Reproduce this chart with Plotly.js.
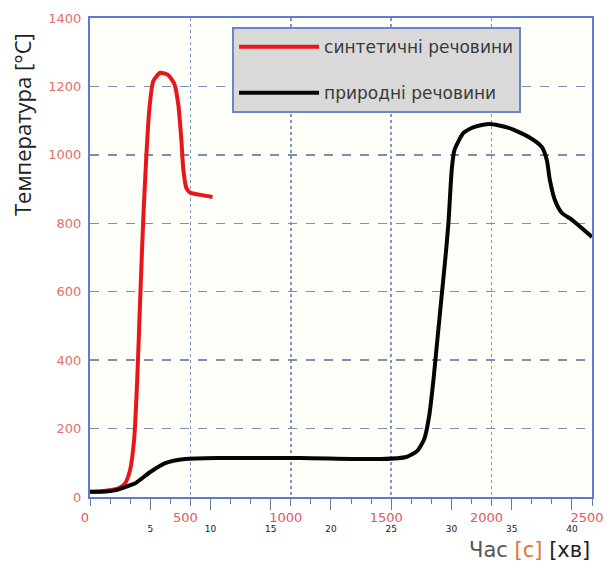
<!DOCTYPE html>
<html>
<head>
<meta charset="utf-8">
<script src="https://cdn.plot.ly/plotly-3.0.1.min.js"></script>
<style>html,body{margin:0;padding:0;background:#fff;}#chart{width:607px;height:564px;}</style>
</head>
<body>
<div id="chart"></div>
<script>
// Synthetic materials (time in s, temperature in °C)
const synthTime = [0, 60, 120, 150, 175, 200, 220, 235, 250, 265, 280, 295, 315, 350, 390, 420, 440, 455, 465, 480, 500, 550, 610];
const synthTemp = [15, 17, 22, 28, 40, 80, 170, 340, 580, 810, 990, 1130, 1215, 1240, 1233, 1207, 1146, 1044, 956, 903, 889, 883, 877];
// Natural materials
const naturalTime = [0, 80, 130, 180, 225, 260, 300, 375, 475, 650, 1050, 1450, 1575, 1630, 1665, 1690, 1710, 1730, 1750, 1770, 1785, 1795, 1802, 1815, 1860, 1915, 1990, 2085, 2185, 2250, 2275, 2290, 2315, 2350, 2400, 2500];
const naturalTemp = [15, 16, 20, 30, 40, 55, 73, 99, 111, 114, 114, 111, 117, 135, 170, 240, 340, 460, 580, 700, 800, 900, 960, 1014, 1064, 1082, 1090, 1079, 1052, 1023, 985, 927, 868, 830, 810, 760];
const seriesNames = ['синтетичні речовини', 'природні речовини'];
const secTicks = [0, 500, 1000, 1500, 2000, 2500];
const minTicks = [5, 10, 15, 20, 25, 30, 35, 40];
const tempTicks = [0, 200, 400, 600, 800, 1000, 1200, 1400];

const traces = [
  {x: synthTime, y: synthTemp, name: seriesNames[0], mode: 'lines', legendgroup: 'a',
   line: {color: '#e8161b', width: 4, shape: 'spline', smoothing: 0.6}},
  {x: naturalTime, y: naturalTemp, name: seriesNames[1], mode: 'lines', legendgroup: 'b',
   line: {color: '#050505', width: 4, shape: 'spline', smoothing: 0.6}},
  {x: [], y: [], xaxis: 'x2', yaxis: 'y', showlegend: false, hoverinfo: 'skip'}
];

const layout = {
  width: 607, height: 564,
  margin: {l: 90, r: 15, t: 18, b: 67},
  paper_bgcolor: '#ffffff',
  plot_bgcolor: '#fffffa',
  font: {family: 'DejaVu Sans, Verdana, sans-serif', color: '#333'},
  showlegend: true,
  legend: {
    x: 0.283, y: 0.981, xanchor: 'left', yanchor: 'top',
    bgcolor: '#d9d9d9', bordercolor: '#6a86c8', borderwidth: 2,
    font: {size: 17, color: '#3a3a3a'}, tracegroupgap: 21, itemwidth: 80
  },
  xaxis: {
    range: [0, 2500], tickmode: 'array', tickvals: secTicks,
    tickfont: {size: 13, color: '#e05a5a'}, ticklabelshift: -5,
    showgrid: true, gridcolor: '#8497b8', griddash: 'dot', gridwidth: 1.5,
    zeroline: false, showline: true, mirror: true, linecolor: '#5b7bd5', linewidth: 2,
    ticks: 'outside', ticklen: 7, tickcolor: '#6a7a9a',
    minor: {dtick: 100, ticks: 'outside', ticklen: 5, tickcolor: '#6a7a9a', showgrid: false}
  },
  xaxis2: {
    overlaying: 'x', anchor: 'y', side: 'bottom',
    range: [0, 2500 / 60], tickmode: 'array', tickvals: minTicks,
    tickfont: {size: 9, color: '#222'},
    ticks: 'outside', ticklen: 12, tickcolor: '#6a7a9a', ticklabelstandoff: 11,
    showgrid: false, zeroline: false, showline: false
  },
  yaxis: {
    range: [0, 1400], tickmode: 'array', tickvals: tempTicks,
    tickfont: {size: 13, color: '#e0706a'},
    showgrid: true, gridcolor: '#7d8fae', griddash: 'dash', gridwidth: 1.5,
    zeroline: false, showline: true, mirror: true, linecolor: '#5b7bd5', linewidth: 2,
    ticks: '', ticklabelstandoff: 4
  },
  annotations: [
    {text: 'Температура [°C]', xref: 'paper', yref: 'paper', x: -0.135, y: 0.777,
     xanchor: 'center', yanchor: 'middle',
     textangle: -90, showarrow: false, font: {family: 'Open Sans, sans-serif', size: 22, color: '#222'}},
    {text: 'Час <span style="color:#e8703a">[с]</span> <span style="color:#222">[хв]</span>',
     xref: 'paper', yref: 'paper', x: 1.0, y: -0.11, xanchor: 'right', yanchor: 'middle',
     showarrow: false, font: {family: 'DejaVu Sans, sans-serif', size: 21, color: '#555'}}
  ]
};

Plotly.newPlot('chart', traces, layout, {displayModeBar: false, staticPlot: true});
</script>
</body>
</html>
